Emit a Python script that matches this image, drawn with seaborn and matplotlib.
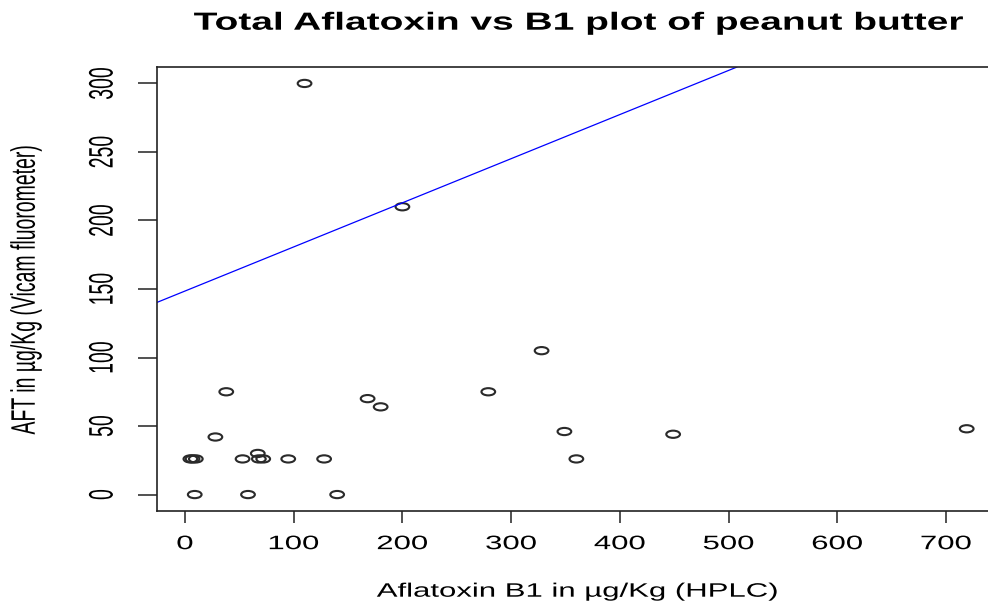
"""
Total aflatoxin (Vicam) vs aflatoxin B1 (HPLC) for peanut butter samples.
"""

import matplotlib
matplotlib.use("Agg")
import matplotlib.pyplot as plt
import seaborn as sns
import pandas as pd
from matplotlib.markers import MarkerStyle
from matplotlib.patheffects import AbstractPathEffect
from matplotlib.transforms import Affine2D

# values
b1_hplc = [110, 200, 328, 279, 168, 180, 349, 360, 449, 719, 38, 28,
           5, 7, 10, 53, 67, 68, 72, 95, 128, 9, 58, 140]
aft_vicam = [300, 210, 105, 75, 70, 64, 46, 26, 44, 48, 75, 42,
             26, 26, 26, 26, 30, 26, 26, 26, 26, 0, 0, 0]

x_ticks = [0, 100, 200, 300, 400, 500, 600, 700]
y_ticks = [0, 50, 100, 150, 200, 250, 300]

line_intercept = 148.5
line_slope = 0.322

TITLE = "Total Aflatoxin vs B1 plot of peanut butter"
XLABEL = "Aflatoxin B1 in µg/Kg (HPLC)"
YLABEL = "AFT in µg/Kg (Vicam fluorometer)"

# the reference image is stretched sideways, so text is widened to match
H_STRETCH = 1.6
V_STRETCH = 1.75


class Stretch(AbstractPathEffect):
    """Scale a text path about its own centre (in the text's local frame)."""

    def __init__(self, sx=1.0, sy=1.0):
        super().__init__()
        self.sx, self.sy = sx, sy

    def draw_path(self, renderer, gc, tpath, affine, rgbFace=None):
        ext = tpath.get_extents()
        cx, cy = ext.x0 + ext.width / 2, ext.y0 + ext.height / 2
        st = Affine2D().translate(-cx, -cy).scale(self.sx, self.sy).translate(cx, cy)
        renderer.draw_path(gc, tpath, st + affine, rgbFace)


def main():
    sns.set_theme(style="white")
    plt.rcParams["font.family"] = ["Liberation Sans", "DejaVu Sans"]

    df = pd.DataFrame({"b1": b1_hplc, "aft": aft_vicam})

    fig = plt.figure(figsize=(9.88, 6.1), dpi=100)
    ax = fig.add_axes([157 / 988, 1 - 511 / 610, (999 - 157) / 988, (511 - 67) / 610])

    marker = MarkerStyle("o", transform=Affine2D().scale(1.9, 1.0))
    sns.scatterplot(data=df, x="b1", y="aft", ax=ax, marker=marker, s=27,
                    facecolor="none", edgecolor="#2a2a2a", linewidth=1.5)
    ax.axline((0, line_intercept), slope=line_slope, color="#0000ff", lw=0.9)

    ax.set_xlim(-25.7, 748.7)
    ax.set_ylim(-12, 312)
    ax.set_xticks(x_ticks)
    ax.set_yticks(y_ticks)

    for side in ax.spines.values():
        side.set_color("#222222")
        side.set_linewidth(1.2)

    ax.tick_params(axis="x", direction="out", length=8.6, width=1.1,
                   color="#222222", pad=9.5, labelsize=14, labelcolor="black")
    ax.tick_params(axis="y", direction="out", length=13.7, width=1.1,
                   color="#222222", pad=19, labelsize=14, labelcolor="black",
                   labelrotation=90)
    ax.tick_params(bottom=True, left=True)

    hx = [Stretch(sx=H_STRETCH)]
    vy = [Stretch(sy=V_STRETCH)]
    for lab in ax.get_xticklabels():
        lab.set_path_effects(hx)
    for lab in ax.get_yticklabels():
        lab.set_path_effects(vy)
        lab.set_va("center")

    ax.set_xlabel(XLABEL, fontsize=14, color="black", labelpad=22,
                  path_effects=hx)
    ax.set_ylabel(YLABEL, fontsize=14, color="black", path_effects=vy)
    ax.yaxis.set_label_coords(-122 / 842, 0.5)

    fig.text((157 + 999) / 2 / 988, 1 - 23 / 610, TITLE, fontsize=17.3,
             fontweight="bold", color="black", ha="center", va="center",
             path_effects=[Stretch(sx=1.62, sy=1.03)])

    fig.savefig("out.png", dpi=100)
    plt.close(fig)


if __name__ == "__main__":
    main()
